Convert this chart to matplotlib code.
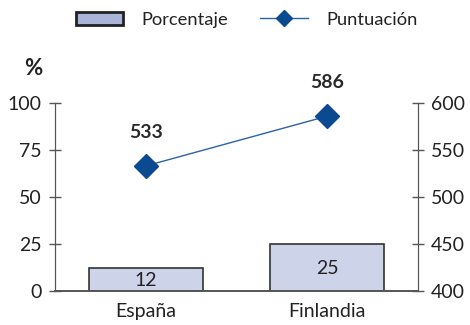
import matplotlib.pyplot as plt
from matplotlib.lines import Line2D
from matplotlib.patches import Patch

paises = ["España", "Finlandia"]
porcentaje = [12, 25]
puntuacion = [533, 586]

plt.rcParams['font.family'] = ['Lato', 'DejaVu Sans']
texto = '#222222'
barra = '#cdd3e8'
borde = '#333333'
azul = '#0b4a91'

fig = plt.figure(figsize=(4.7, 3.25), dpi=100)
ax = fig.add_axes([0.117, 0.105, 0.772, 0.578])
ax2 = ax.twinx()

x = [0, 1]
ax.bar(x, porcentaje, width=0.63, color=barra, edgecolor=borde, linewidth=1.2, zorder=2)
for xi, v in zip(x, porcentaje):
    ax.text(xi, v / 2 - 0.5, str(v), ha='center', va='center', fontsize=14, color=texto)

ax.set_xlim(-0.5, 1.5)
ax.set_ylim(0, 100)
ax.set_yticks([0, 25, 50, 75, 100])
ax.set_xticks(x)
ax.set_xticklabels(paises, fontsize=14, color=texto)
ax.tick_params(axis='x', length=0, pad=9)
ax.tick_params(axis='y', direction='inout', length=9, width=1, color='#555555',
               labelsize=14, labelcolor=texto, pad=5)

ax2.plot(x, puntuacion, color='#2a63a8', linewidth=1.0, marker='D', markersize=12,
         markerfacecolor=azul, markeredgecolor=azul, zorder=3)
for xi, v in zip(x, puntuacion):
    ax2.text(xi, v + 27, str(v), ha='center', va='bottom', fontsize=14,
             fontweight='bold', color='#2a2a2a')
ax2.set_ylim(400, 600)
ax2.set_yticks([400, 450, 500, 550, 600])
ax2.tick_params(axis='y', direction='inout', length=9, width=1, color='#555555',
                labelsize=14, labelcolor=texto, pad=5)

for a in (ax, ax2):
    a.spines['top'].set_visible(False)
    a.spines['left'].set_color('#555555')
    a.spines['right'].set_color('#555555')
    a.spines['bottom'].set_color('#555555')
    a.spines['bottom'].set_linewidth(1.2)

ax.text(-0.06, 1.15, '%', transform=ax.transAxes, fontsize=16, fontweight='bold',
        color=texto, ha='center')

handles = [
    Patch(facecolor='#a9b5d8', edgecolor='#222222', linewidth=2),
    Line2D([0], [0], color='#2a63a8', linewidth=1, marker='D', markersize=8,
           markerfacecolor=azul, markeredgecolor=azul),
]
fig.legend(handles, ['Porcentaje', 'Puntuación'], loc='upper center',
           bbox_to_anchor=(0.525, 1.015), ncol=2, frameon=False, fontsize=13.2,
           handlelength=2.6, handleheight=0.75, handletextpad=1.0,
           columnspacing=1.75, labelcolor=texto)

fig.savefig('out.png', dpi=100)
